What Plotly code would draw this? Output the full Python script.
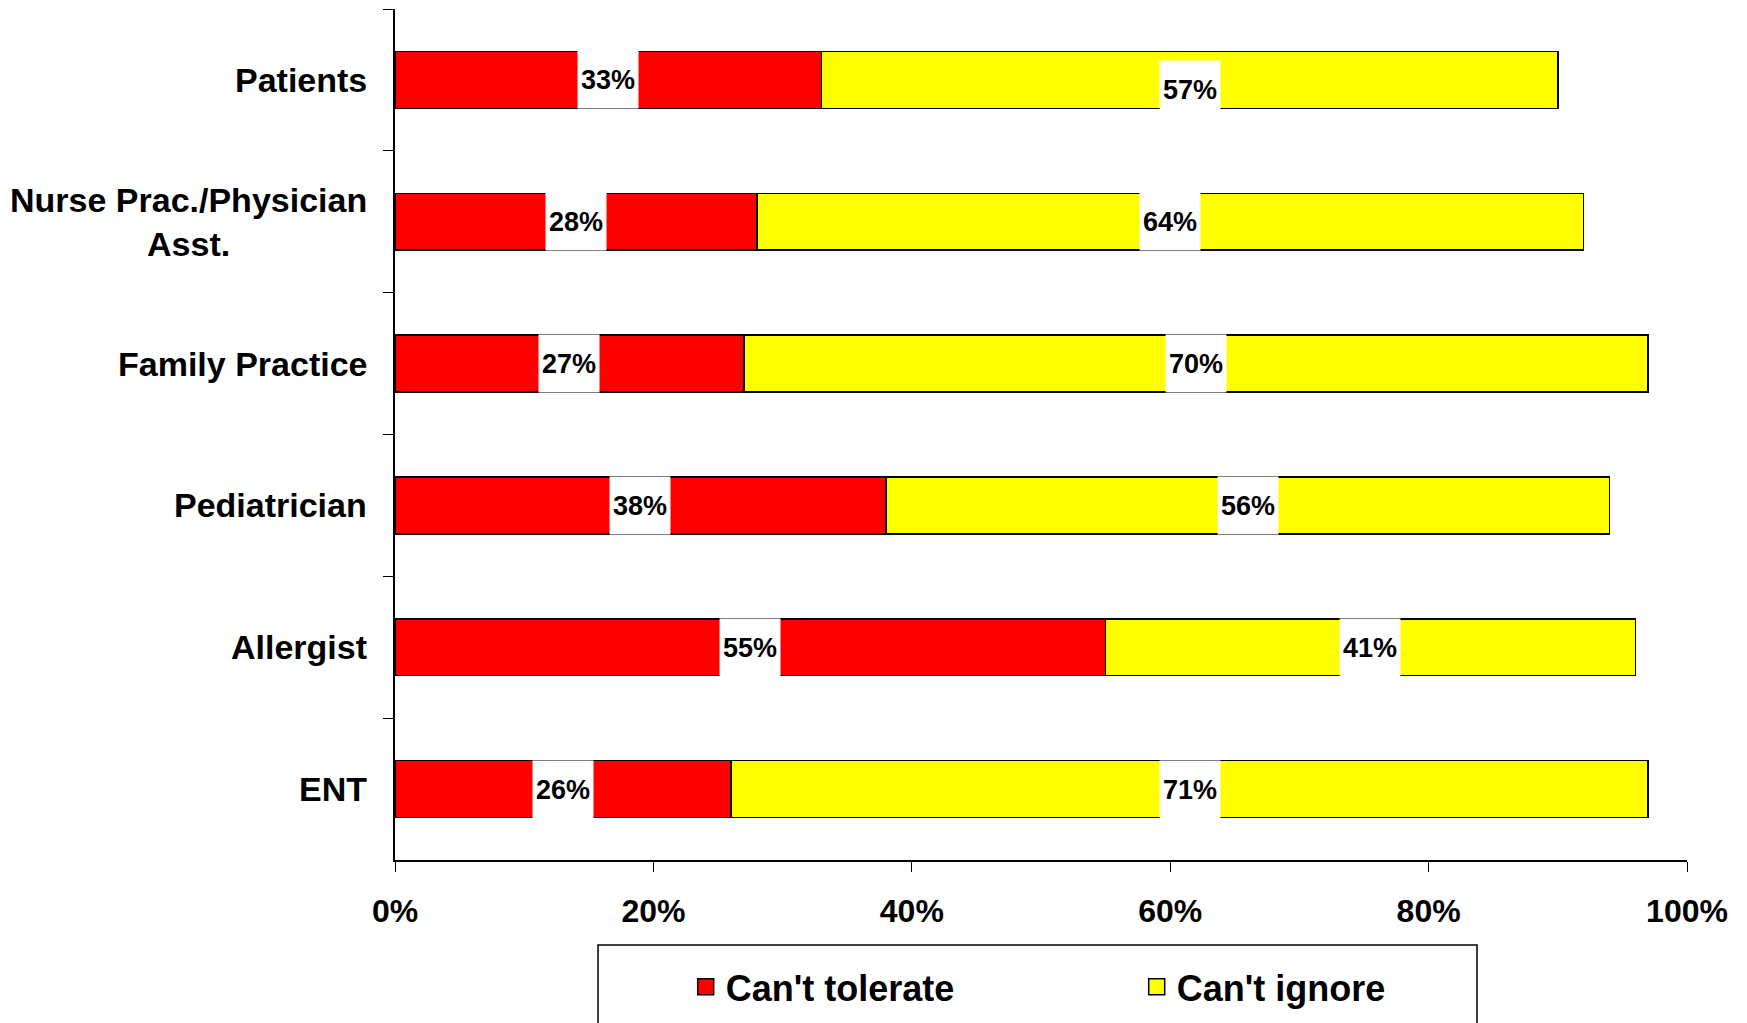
import plotly.graph_objects as go

categories = ["Patients", "Nurse Prac./Physician<br>Asst.", "Family Practice",
              "Pediatrician", "Allergist", "ENT"]
cant_tolerate = [33, 28, 27, 38, 55, 26]
cant_ignore = [57, 64, 70, 56, 41, 71]
x_ticks = [0, 20, 40, 60, 80, 100]

FONT = "Liberation Sans, Arial, sans-serif"
RED = "#FF0000"
YELLOW = "#FFFF00"

fig = go.Figure()
fig.add_trace(go.Bar(
    name="Can't tolerate", y=categories, x=cant_tolerate, orientation="h",
    marker=dict(color=RED, line=dict(color="black", width=1.5)),
    width=0.4, showlegend=False,
))
fig.add_trace(go.Bar(
    name="Can't ignore", y=categories, x=cant_ignore, orientation="h",
    marker=dict(color=YELLOW, line=dict(color="black", width=1.5)),
    width=0.4, showlegend=False,
))
# legend entries (larger square swatches)
for nm, col in [("Can't tolerate", RED), ("Can't ignore", YELLOW)]:
    fig.add_trace(go.Scatter(
        x=[None], y=[None], mode="markers", name=f"<b>{nm}</b>",
        marker=dict(symbol="square", size=16, color=col,
                    line=dict(color="black", width=1.5)),
    ))

annotations = []
for i, cat in enumerate(categories):
    a = cant_tolerate[i]
    b = cant_ignore[i]
    for j, (xc, v) in enumerate([(a / 2, a), (a + b / 2, b)]):
        annotations.append(dict(
            x=xc, y=cat, xref="x", yref="y", text=f"<b>{v}%</b>",
            showarrow=False, bgcolor="white", width=58, height=55,
            font=dict(family=FONT, size=27, color="black"),
            yshift=-10 if (i == 0 and j == 1) else 0,
        ))
    annotations.append(dict(
        x=0, y=cat, xref="paper", yref="y", text=f"<b>{cat}</b>",
        showarrow=False, xanchor="right", xshift=-26, align="center",
        font=dict(family=FONT, size=34, color="black"),
    ))

fig.update_layout(
    width=1739, height=1015,
    barmode="stack",
    margin=dict(l=387, r=60, t=1, b=163),
    plot_bgcolor="white", paper_bgcolor="white",
    font=dict(family=FONT, color="black"),
    annotations=annotations,
    showlegend=True,
    legend=dict(
        orientation="h", x=0.225, xanchor="left", y=-0.149, yanchor="middle",
        font=dict(family=FONT, size=36, color="black"),
        entrywidth=406, entrywidthmode="pixels",
        bgcolor="rgba(0,0,0,0)",
        traceorder="normal",
    ),
    shapes=[dict(
        type="rect", xref="paper", yref="paper",
        x0=(598 - 395) / 1292, x1=(1477 - 395) / 1292,
        y0=-0.25, y1=(860 - 945) / 851,
        line=dict(color="black", width=1.5), fillcolor="rgba(0,0,0,0)",
        layer="above",
    )],
)

fig.update_xaxes(
    range=[0, 100], tickvals=x_ticks, ticktext=[f"<b>{t}%</b>" for t in x_ticks],
    showgrid=False, zeroline=False, showline=True, linecolor="black", linewidth=2,
    ticks="outside", ticklen=10, tickwidth=1, tickcolor="black",
    tickfont=dict(family=FONT, size=32, color="black"),
    ticklabelstandoff=12,
)
fig.update_yaxes(
    categoryorder="array", categoryarray=categories,
    range=[5.5, -0.5], showgrid=False, zeroline=False,
    showline=True, linecolor="black", linewidth=2,
    ticks="outside", ticklen=10, tickwidth=1, tickcolor="black",
    tickson="boundaries", showticklabels=False,
)

fig.write_html("out.html")
